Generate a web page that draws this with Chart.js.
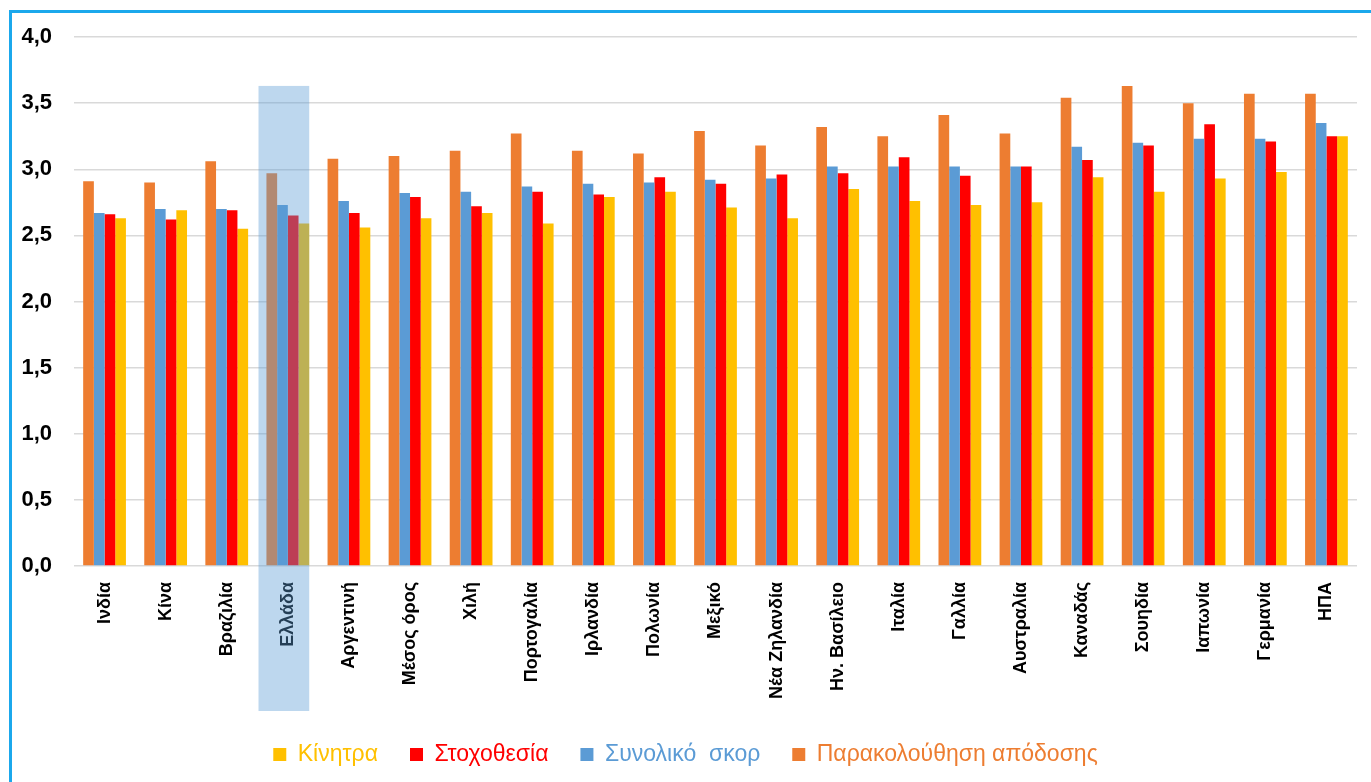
<!DOCTYPE html>
<html>
<head>
<meta charset="utf-8">
<script src="https://cdn.jsdelivr.net/npm/chart.js@4.4.1/dist/chart.umd.min.js"></script>
<style>
  html, body { margin: 0; padding: 0; background: #ffffff; }
  #wrap { position: relative; width: 1371px; height: 782px; overflow: hidden; }
  #c { position: absolute; left: 0; top: 0; }
  #frame { position: absolute; left: 9px; top: 10px; width: 1400px; height: 800px;
           border-top: 3px solid #1BA8EC; border-left: 3px solid #1BA8EC; pointer-events: none; }
</style>
</head>
<body>
<div id="wrap">
  <canvas id="c" width="1371" height="782"></canvas>
  <div id="frame"></div>
</div>
<script>
const categories = ['Ινδία','Κίνα','Βραζιλία','Ελλάδα','Αργεντινή','Μέσος όρος','Χιλή','Πορτογαλία','Ιρλανδία','Πολωνία','Μεξικό','Νέα Ζηλανδία','Ην. Βασίλειο','Ιταλία','Γαλλία','Αυστραλία','Καναδάς','Σουηδία','Ιαπωνία','Γερμανία','ΗΠΑ'];
const performanceMonitoring = [2.91,2.90,3.06,2.97,3.08,3.10,3.14,3.27,3.14,3.12,3.29,3.18,3.32,3.25,3.41,3.27,3.54,3.63,3.50,3.57,3.57];
const overallScore = [2.67,2.70,2.70,2.73,2.76,2.82,2.83,2.87,2.89,2.90,2.92,2.93,3.02,3.02,3.02,3.02,3.17,3.20,3.23,3.23,3.35];
const targetSetting = [2.66,2.62,2.69,2.65,2.67,2.79,2.72,2.83,2.81,2.94,2.89,2.96,2.97,3.09,2.95,3.02,3.07,3.18,3.34,3.21,3.25];
const incentives = [2.63,2.69,2.55,2.59,2.56,2.63,2.67,2.59,2.79,2.83,2.71,2.63,2.85,2.76,2.73,2.75,2.94,2.83,2.93,2.98,3.25];
const seriesNames = ['Παρακολούθηση απόδοσης','Συνολικό  σκορ','Στοχοθεσία','Κίνητρα'];
const yTicks = [0,0.5,1,1.5,2,2.5,3,3.5,4];
const highlightIndex = 3;

const highlightPlugin = {
  id: 'highlight',
  afterDraw(chart) {
    const xs = chart.scales.x, ys = chart.scales.y, ctx = chart.ctx;
    const cx = xs.getPixelForValue(highlightIndex);
    const cw = xs.width / categories.length;
    const left = cx - cw * 0.48, right = cx + cw * 0.35;
    const top = ys.getPixelForValue(3.63);
    const bottom = chart.chartArea.bottom + 145;
    ctx.save();
    ctx.fillStyle = 'rgba(91,155,213,0.4)';
    ctx.fillRect(left, top, right - left, bottom - top);
    ctx.restore();
  }
};

const colors = ['#ED7D31', '#5B9BD5', '#FF0000', '#FFC000'];
const values = [performanceMonitoring, overallScore, targetSetting, incentives];

new Chart(document.getElementById('c'), {
  type: 'bar',
  data: {
    labels: categories,
    datasets: values.map((v, i) => ({
      label: seriesNames[i],
      data: v,
      backgroundColor: colors[i],
      borderWidth: 0,
      categoryPercentage: 0.7,
      barPercentage: 1.0
    }))
  },
  options: {
    responsive: false,
    animation: false,
    devicePixelRatio: 1,
    layout: { padding: { top: 37, right: 14, left: 14, bottom: 6 } },
    plugins: {
      tooltip: { enabled: false },
      legend: {
        position: 'bottom',
        reverse: true,
        labels: {
          boxWidth: 13,
          boxHeight: 13,
          padding: 32,
          font: { family: '"Liberation Sans", Arial, sans-serif', size: 23 },
          generateLabels(chart) {
            const items = Chart.defaults.plugins.legend.labels.generateLabels(chart);
            items.forEach(it => { it.fontColor = it.fillStyle; it.lineWidth = 0; it.strokeStyle = it.fillStyle; });
            return items;
          }
        }
      }
    },
    scales: {
      x: {
        grid: { display: false, drawTicks: false },
        border: { display: false },
        ticks: {
          minRotation: 90, maxRotation: 90, autoSkip: false, padding: 16,
          color: '#000000',
          font: { family: '"Liberation Sans", Arial, sans-serif', size: 18, weight: 'bold' }
        },
        afterFit(scale) { scale.height = 145; }
      },
      y: {
        min: 0, max: 4,
        afterBuildTicks(scale) { scale.ticks = yTicks.map(v => ({ value: v })); },
        grid: { color: '#D9D9D9', lineWidth: 1.5, drawTicks: false },
        border: { display: false },
        ticks: {
          padding: 22,
          color: '#000000',
          font: { family: '"Liberation Sans", Arial, sans-serif', size: 22, weight: 'bold' },
          callback: v => Number(v).toFixed(1).replace('.', ',')
        },
        afterFit(scale) { scale.width = 60; }
      }
    }
  },
  plugins: [highlightPlugin]
});
</script>
</body>
</html>
